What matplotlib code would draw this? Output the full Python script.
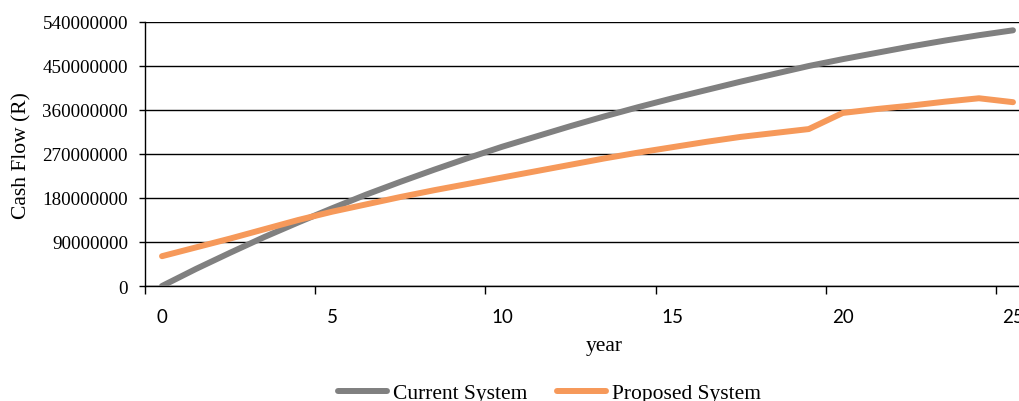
import matplotlib.pyplot as plt
from matplotlib.ticker import FixedLocator, NullFormatter

# yearly cash flow, in Rand
years = list(range(26))
current_system = [0, 35, 68, 100, 130, 159, 187, 213, 238, 262, 285, 306, 327,
                  347, 366, 384, 401, 418, 434, 450, 464, 477, 490, 502, 513, 523]
proposed_system = [61, 79, 97, 116, 135, 152, 167, 182, 196, 209, 222, 235, 248,
                   261, 273, 284, 295, 305, 313, 321, 354, 362, 369, 377, 384, 376]
current_system = [v * 1e6 for v in current_system]
proposed_system = [v * 1e6 for v in proposed_system]
y_ticks = [0, 90000000, 180000000, 270000000, 360000000, 450000000, 540000000]
x_labels = [0, 5, 10, 15, 20, 25]

serif = "Liberation Serif"

fig = plt.figure(figsize=(10.19, 4.02), dpi=100)
ax = fig.add_axes([145 / 1019, 1 - 287 / 402, 885 / 1019, 264 / 402])

ax.plot(years, current_system, color="#808080", lw=4.3,
        solid_capstyle="round", label="Current System", zorder=3)
ax.plot(years, proposed_system, color="#F6995A", lw=4.3,
        solid_capstyle="round", label="Proposed System", zorder=3)

ax.set_xlim(-0.5, 25.5)
ax.set_ylim(0, 540000000)

# y axis: horizontal gridlines, serif labels
ax.set_yticks(y_ticks)
ax.set_yticklabels([str(v) for v in y_ticks], fontname=serif, fontsize=13.7)
ax.tick_params(axis="y", direction="out", length=4.3, width=1, pad=8)
ax.yaxis.grid(True, color="black", lw=1.0)
ax.set_axisbelow(True)

# x axis: ticks between categories, labels on the categories
ax.xaxis.set_major_locator(FixedLocator([-0.5 + 5 * k for k in range(6)]))
ax.xaxis.set_major_formatter(NullFormatter())
ax.xaxis.set_minor_locator(FixedLocator(x_labels))
ax.set_xticklabels([str(v) for v in x_labels], minor=True,
                   fontname="Lato", fontsize=13.5)
ax.tick_params(axis="x", which="major", direction="out", length=5.8, width=1)
ax.tick_params(axis="x", which="minor", length=0, pad=16)

for side in ("top", "right"):
    ax.spines[side].set_visible(False)
for side in ("left", "bottom"):
    ax.spines[side].set_color("black")
    ax.spines[side].set_linewidth(1.0)

fig.text(22 / 1019, 1 - 156 / 402, "Cash Flow (R)", rotation=90,
         ha="center", va="center", fontname=serif, fontsize=15.5)
fig.text(604 / 1019, 1 - 347 / 402, "year",
         ha="center", va="center", fontname=serif, fontsize=15.5)

fig.legend(loc="center", bbox_to_anchor=(549.5 / 1019, 1 - 394 / 402), ncol=2,
           frameon=False, prop={"family": serif, "size": 15.5},
           handlelength=2.27, handletextpad=0.25, columnspacing=1.4)

fig.savefig("out.png", dpi=100)
